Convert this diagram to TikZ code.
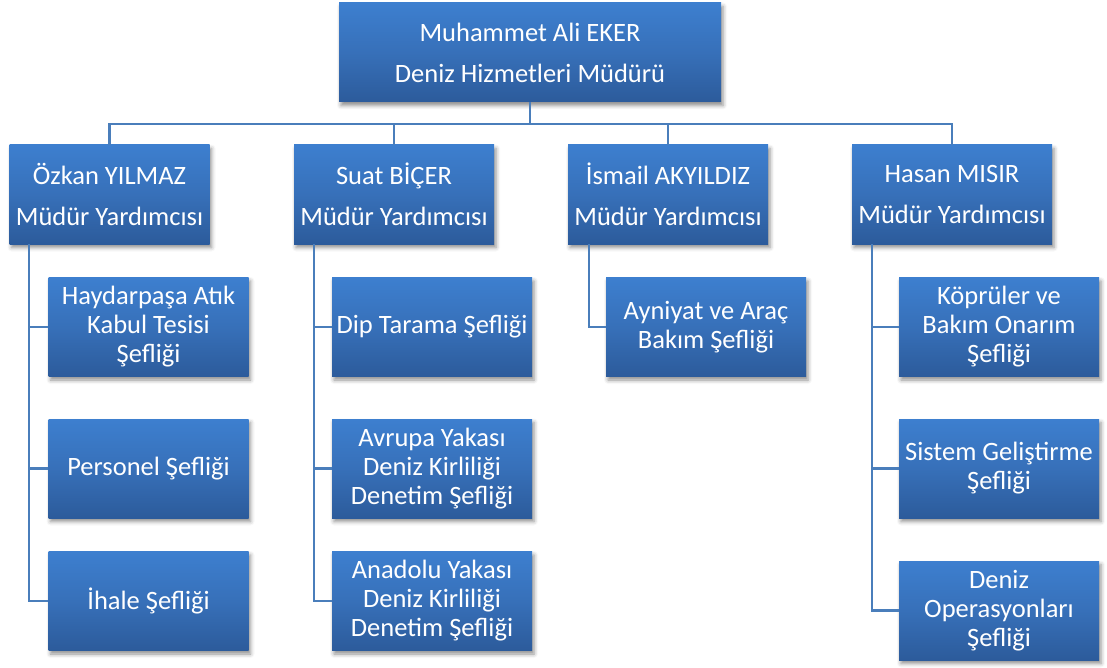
\documentclass[tikz,border=0pt]{standalone}
\usepackage{fontspec}
\setmainfont{Carlito}
\usetikzlibrary{shadows.blur}
\definecolor{boxtop}{RGB}{61,127,207}
\definecolor{boxmid}{RGB}{55,112,185}
\definecolor{boxbot}{RGB}{44,91,155}
\definecolor{linecol}{RGB}{74,126,187}
\tikzset{
  orgbox/.style={draw=none, rectangle, minimum width=200pt, minimum height=99pt,
    top color=boxtop, bottom color=boxbot, middle color=boxmid,
    text=white, align=center, inner sep=0pt,
    blur shadow={shadow xshift=2pt, shadow yshift=-3.5pt, shadow blur radius=4pt, shadow opacity=45}},
  headbox/.style={orgbox, font=\fontsize{26.5}{41}\selectfont},
  subbox/.style={orgbox, font=\fontsize{26.5}{29}\selectfont},
  conn/.style={draw=linecol, line width=2.2pt}
}
\begin{document}
\begin{tikzpicture}[x=1pt,y=-1pt]
\useasboundingbox (0,0) rectangle (1107,668);
% top
\node[headbox, minimum width=382pt] (top) at (530,52.5) {Muhammet Ali EKER\\Deniz Hizmetleri Müdürü};
% level 2
\node[headbox] (oz) at (109.5,194.5) {Özkan YILMAZ\\Müdür Yardımcısı};
\node[headbox] (su) at (394,194.5) {Suat BİÇER\\Müdür Yardımcısı};
\node[headbox] (is) at (668,194.5) {İsmail AKYILDIZ\\Müdür Yardımcısı};
\node[headbox] (hs) at (952,194.5) {Hasan MISIR\\Müdür Yardımcısı};
% level 3
\node[subbox] (oz1) at (148.5,327) {Haydarpaşa Atık\\Kabul Tesisi\\Şefliği};
\node[subbox] (oz2) at (148.5,468.5) {Personel Şefliği};
\node[subbox] (oz3) at (148.5,601) {İhale Şefliği};
\node[subbox] (su1) at (432,327) {Dip Tarama Şefliği};
\node[subbox] (su2) at (432,468.5) {Avrupa Yakası\\Deniz Kirliliği\\Denetim Şefliği};
\node[subbox] (su3) at (432,601) {Anadolu Yakası\\Deniz Kirliliği\\Denetim Şefliği};
\node[subbox] (is1) at (706,327) {Ayniyat ve Araç\\Bakım Şefliği};
\node[subbox] (hs1) at (999,327) {Köprüler ve\\Bakım Onarım\\Şefliği};
\node[subbox] (hs2) at (999,468.5) {Sistem Geliştirme\\Şefliği};
\node[subbox] (hs3) at (999,610.5) {Deniz\\Operasyonları\\Şefliği};
% connectors
\coordinate (bus) at (530,124);
\draw[conn] (top.south) -- (bus);
\draw[conn] (oz.north) -- (oz.north |- bus) -| (hs.north);
\draw[conn] (su.north) -- (su.north |- bus);
\draw[conn] (is.north) -- (is.north |- bus);
\coordinate (ozt) at ([xshift=20pt]oz.south west);
\coordinate (sut) at ([xshift=20pt]su.south west);
\coordinate (ist) at ([xshift=21pt]is.south west);
\coordinate (hst) at ([xshift=20pt]hs.south west);
\draw[conn] (ozt) |- (oz3.west);
\draw[conn] (ozt |- oz1.west) -- (oz1.west);
\draw[conn] (ozt |- oz2.west) -- (oz2.west);
\draw[conn] (sut) |- (su3.west);
\draw[conn] (sut |- su1.west) -- (su1.west);
\draw[conn] (sut |- su2.west) -- (su2.west);
\draw[conn] (ist) |- (is1.west);
\draw[conn] (hst) |- (hs3.west);
\draw[conn] (hst |- hs1.west) -- (hs1.west);
\draw[conn] (hst |- hs2.west) -- (hs2.west);
\end{tikzpicture}
\end{document}
